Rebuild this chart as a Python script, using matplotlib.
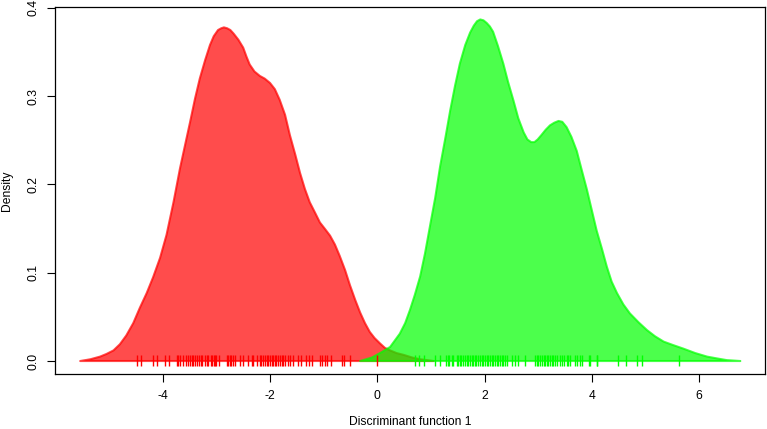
import matplotlib
matplotlib.use("Agg")
import matplotlib.pyplot as plt

# density curves (x, density)
red_x = [-5.54, -5.35, -5.17, -5.05, -4.92, -4.80, -4.68, -4.55, -4.43, -4.30,
         -4.18, -4.05, -3.93, -3.80,
         -3.68, -3.58, -3.49, -3.40, -3.31, -3.21, -3.12, -3.05, -2.97, -2.91,
         -2.86, -2.80, -2.74, -2.68, -2.59, -2.50, -2.44, -2.38, -2.29, -2.19,
         -2.10, -2.00, -1.91, -1.82, -1.72, -1.63, -1.53, -1.44, -1.35, -1.26,
         -1.16, -1.07, -0.98, -0.88, -0.79, -0.70, -0.60, -0.51, -0.41, -0.32,
         -0.23, -0.14, -0.05, 0.05, 0.14, 0.24, 0.36, 0.49, 0.65, 0.80, 1.05]
red_y = [0.0, 0.002, 0.005, 0.008, 0.012, 0.019, 0.029, 0.043, 0.060, 0.077,
         0.095, 0.117, 0.143, 0.180,
         0.218, 0.246, 0.271, 0.297, 0.320, 0.341, 0.358, 0.368, 0.375, 0.377,
         0.378, 0.377, 0.375, 0.371, 0.364, 0.355, 0.345, 0.336, 0.328, 0.323,
         0.320, 0.315, 0.308, 0.296, 0.279, 0.256, 0.234, 0.213, 0.195, 0.180,
         0.168, 0.157, 0.150, 0.142, 0.132, 0.119, 0.103, 0.086, 0.069, 0.055,
         0.043, 0.033, 0.026, 0.020, 0.015, 0.012, 0.009, 0.007, 0.004, 0.002, 0.0]

green_x = [-0.32, -0.10, 0.05, 0.24, 0.42, 0.52, 0.61, 0.70, 0.80, 0.89,
           0.98, 1.08, 1.17, 1.27, 1.36, 1.45, 1.54, 1.64, 1.73, 1.80,
           1.86, 1.92, 1.98, 2.04, 2.10, 2.16, 2.25, 2.35, 2.44, 2.54,
           2.63, 2.73, 2.80, 2.87, 2.93, 2.99, 3.06, 3.14, 3.22, 3.30,
           3.38, 3.45, 3.53, 3.62, 3.72, 3.81, 3.91, 4.00, 4.09, 4.19,
           4.28, 4.37, 4.47, 4.59, 4.71, 4.87, 5.03, 5.18, 5.34, 5.52,
           5.71, 5.93, 6.15, 6.33, 6.52, 6.77]
green_y = [0.0, 0.004, 0.009, 0.016, 0.031, 0.043, 0.058, 0.075, 0.096, 0.122,
           0.152, 0.185, 0.220, 0.253, 0.284, 0.312, 0.337, 0.358, 0.372, 0.380,
           0.385, 0.387, 0.386, 0.383, 0.379, 0.373, 0.357, 0.337, 0.316, 0.295,
           0.275, 0.259, 0.251, 0.248, 0.248, 0.251, 0.256, 0.262, 0.267, 0.270,
           0.272, 0.271, 0.265, 0.254, 0.238, 0.217, 0.194, 0.171, 0.148, 0.127,
           0.107, 0.090, 0.077, 0.064, 0.054, 0.044, 0.035, 0.028, 0.022, 0.018,
           0.014, 0.009, 0.005, 0.003, 0.001, 0.0]

# rug of individual scores
red_rug = [-4.48, -4.40, -4.18, -4.10, -3.95, -3.89, -3.73, -3.71, -3.68, -3.62,
           -3.57, -3.53, -3.49, -3.46, -3.43, -3.40, -3.37, -3.33, -3.29, -3.26,
           -3.21, -3.18, -3.15, -3.11, -3.08, -3.05, -3.03, -3.00, -2.95, -2.81,
           -2.78, -2.75, -2.72, -2.69, -2.65, -2.56, -2.50, -2.41, -2.34, -2.31,
           -2.25, -2.19, -2.16, -2.13, -2.10, -2.06, -2.03, -2.00, -1.97, -1.94,
           -1.91, -1.88, -1.85, -1.82, -1.78, -1.75, -1.72, -1.66, -1.63, -1.57,
           -1.47, -1.43, -1.33, -1.27, -1.21, -1.06, -1.03, -0.98, -0.94, -0.87,
           -0.66, -0.62, -0.51, -0.01]
green_rug = [0.70, 0.78, 0.88, 1.08, 1.17, 1.28, 1.31, 1.34, 1.39, 1.42,
             1.48, 1.51, 1.54, 1.57, 1.60, 1.64, 1.67, 1.70, 1.73, 1.76,
             1.79, 1.82, 1.85, 1.88, 1.92, 1.95, 1.98, 2.01, 2.04, 2.07,
             2.10, 2.13, 2.16, 2.20, 2.23, 2.26, 2.29, 2.32, 2.35, 2.38,
             2.41, 2.51, 2.57, 2.63, 2.76, 2.94, 2.97, 3.00, 3.04, 3.07,
             3.10, 3.13, 3.16, 3.19, 3.22, 3.25, 3.28, 3.32, 3.35, 3.41,
             3.44, 3.48, 3.53, 3.56, 3.60, 3.69, 3.72, 3.78, 3.81, 3.94,
             3.97, 4.09, 4.10, 4.48, 4.63, 4.85, 4.93, 5.63]

xticks = [-4, -2, 0, 2, 4, 6]
yticks = [0.0, 0.1, 0.2, 0.3, 0.4]

plt.rcParams['font.family'] = ['Liberation Sans', 'DejaVu Sans']

fig = plt.figure(figsize=(7.67, 4.29), dpi=100)
ax = fig.add_axes([0.0717, 0.1282, 0.9257, 0.8555])

ax.fill(red_x, red_y, facecolor=(1, 0, 0, 0.7), edgecolor=(1, 0, 0, 0.7), lw=1.5,
        joinstyle='round', zorder=2)
ax.fill(green_x, green_y, facecolor=(0, 1, 0, 0.7), edgecolor=(0, 1, 0, 0.7), lw=1.5,
        joinstyle='round', zorder=3)
ax.vlines(red_rug, -0.0057, 0.0068, color='red', lw=1, zorder=4)
ax.vlines(green_rug, -0.0057, 0.0068, color=(0, 1, 0), lw=1, zorder=4)

ax.set_xlim(-6.01, 7.23)
ax.set_ylim(-0.0147, 0.4011)
ax.set_xticks(xticks)
ax.set_xticklabels([str(t) for t in xticks])
ax.set_yticks(yticks)
ax.set_yticklabels([f"{t:.1f}" for t in yticks], rotation=90, va='center')
ax.tick_params(length=5.5, width=0.8, labelsize=8.7, pad=6)
for s in ax.spines.values():
    s.set_linewidth(0.9)
ax.set_xlabel("Discriminant function 1", fontsize=8.7, labelpad=10)
ax.set_ylabel("Density", fontsize=8.7, labelpad=10)

fig.savefig("out.png", dpi=100)
